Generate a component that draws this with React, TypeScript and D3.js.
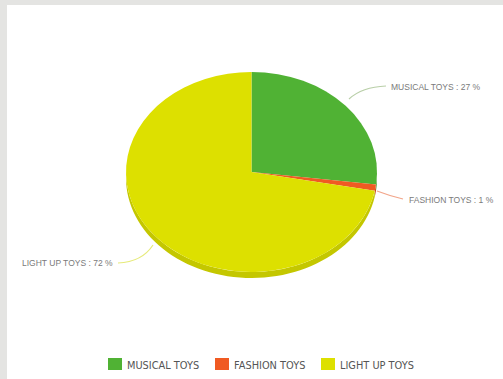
import React from "react";
import * as d3 from "d3";

const categories = ["MUSICAL TOYS", "FASHION TOYS", "LIGHT UP TOYS"];
const values = [27, 1, 72];
const percentLabels = ["27 %", "1 %", "72 %"];
const colors = ["#50b234", "#f05a22", "#dde000"];
const sideColors = ["#3f9727", "#c8491a", "#c4c700"];
const lineColors = ["#b9cfa8", "#f2a58a", "#e6ea7a"];

const W = 503;
const H = 379;
const cx = 251.5;
const cy = 172;
const rx = 125.5;
const ry = 100;
const depth = 6;

export default function App() {
  const pie = d3.pie<number>().sort(null).value((d) => d);
  const arcs = pie(values);
  const arcGen = d3.arc<d3.PieArcDatum<number>>().innerRadius(0).outerRadius(rx);

  const ex = (a: number) => cx + rx * Math.sin(a);
  const ey = (a: number) => cy - ry * Math.cos(a);

  const sides = arcs.map((a, i) => {
    const s = Math.max(a.startAngle, Math.PI / 2);
    const e = Math.min(a.endAngle, (3 * Math.PI) / 2);
    if (e <= s) return null;
    const p = d3.path();
    const n = 60;
    for (let k = 0; k <= n; k++) {
      const t = s + ((e - s) * k) / n;
      if (k === 0) p.moveTo(ex(t), ey(t));
      else p.lineTo(ex(t), ey(t));
    }
    for (let k = n; k >= 0; k--) {
      const t = s + ((e - s) * k) / n;
      p.lineTo(ex(t), ey(t) + depth);
    }
    p.closePath();
    return <path key={"s" + i} d={p.toString()} fill={sideColors[i]} />;
  });

  // label connector geometry
  const labelDefs = [
    { start: [349, 99], ctrl: [362, 87], end: [386, 86], tx: 391, ty: 90, anchor: "start" },
    { start: [377, 191], ctrl: [390, 196], end: [403, 199], tx: 409, ty: 203, anchor: "start" },
    { start: [153, 245], ctrl: [142, 262], end: [118, 263], tx: 22, ty: 266, anchor: "start" },
  ];

  const legendX = [108, 215, 321];

  return (
    <svg
      width={W}
      height={H}
      style={{ position: "absolute", left: 0, top: 0, display: "block" }}
    >
      <rect x={0} y={0} width={W} height={H} fill="#e4e4e2" />
      <rect x={7} y={5} width={W - 7} height={H - 5} fill="#ffffff" />
      <g>{sides}</g>
      <g transform={`translate(${cx},${cy}) scale(1,${ry / rx})`}>
        {arcs.map((a, i) => (
          <path key={i} d={arcGen(a) || ""} fill={colors[i]} />
        ))}
      </g>
      {labelDefs.map((l, i) => {
        const p = d3.path();
        p.moveTo(l.start[0], l.start[1]);
        p.quadraticCurveTo(l.ctrl[0], l.ctrl[1], l.end[0], l.end[1]);
        return (
          <g key={"l" + i}>
            <path d={p.toString()} fill="none" stroke={lineColors[i]} strokeWidth={1.2} />
            <text
              x={l.tx}
              y={l.ty}
              fontFamily="Liberation Sans, Arial, sans-serif"
              fontSize={8.5}
              fill="#7a7a7a"
              textAnchor={l.anchor as any}
            >
              {categories[i] + " : " + percentLabels[i]}
            </text>
          </g>
        );
      })}
      {categories.map((c, i) => (
        <g key={"lg" + i} transform={`translate(${legendX[i]},358)`}>
          <rect x={0} y={0} width={14} height={12} fill={colors[i]} />
          <text
            x={19}
            y={10.5}
            fontFamily="DejaVu Sans, Verdana, sans-serif"
            fontSize={9.8}
            fill="#555"
          >
            {c}
          </text>
        </g>
      ))}
    </svg>
  );
}
